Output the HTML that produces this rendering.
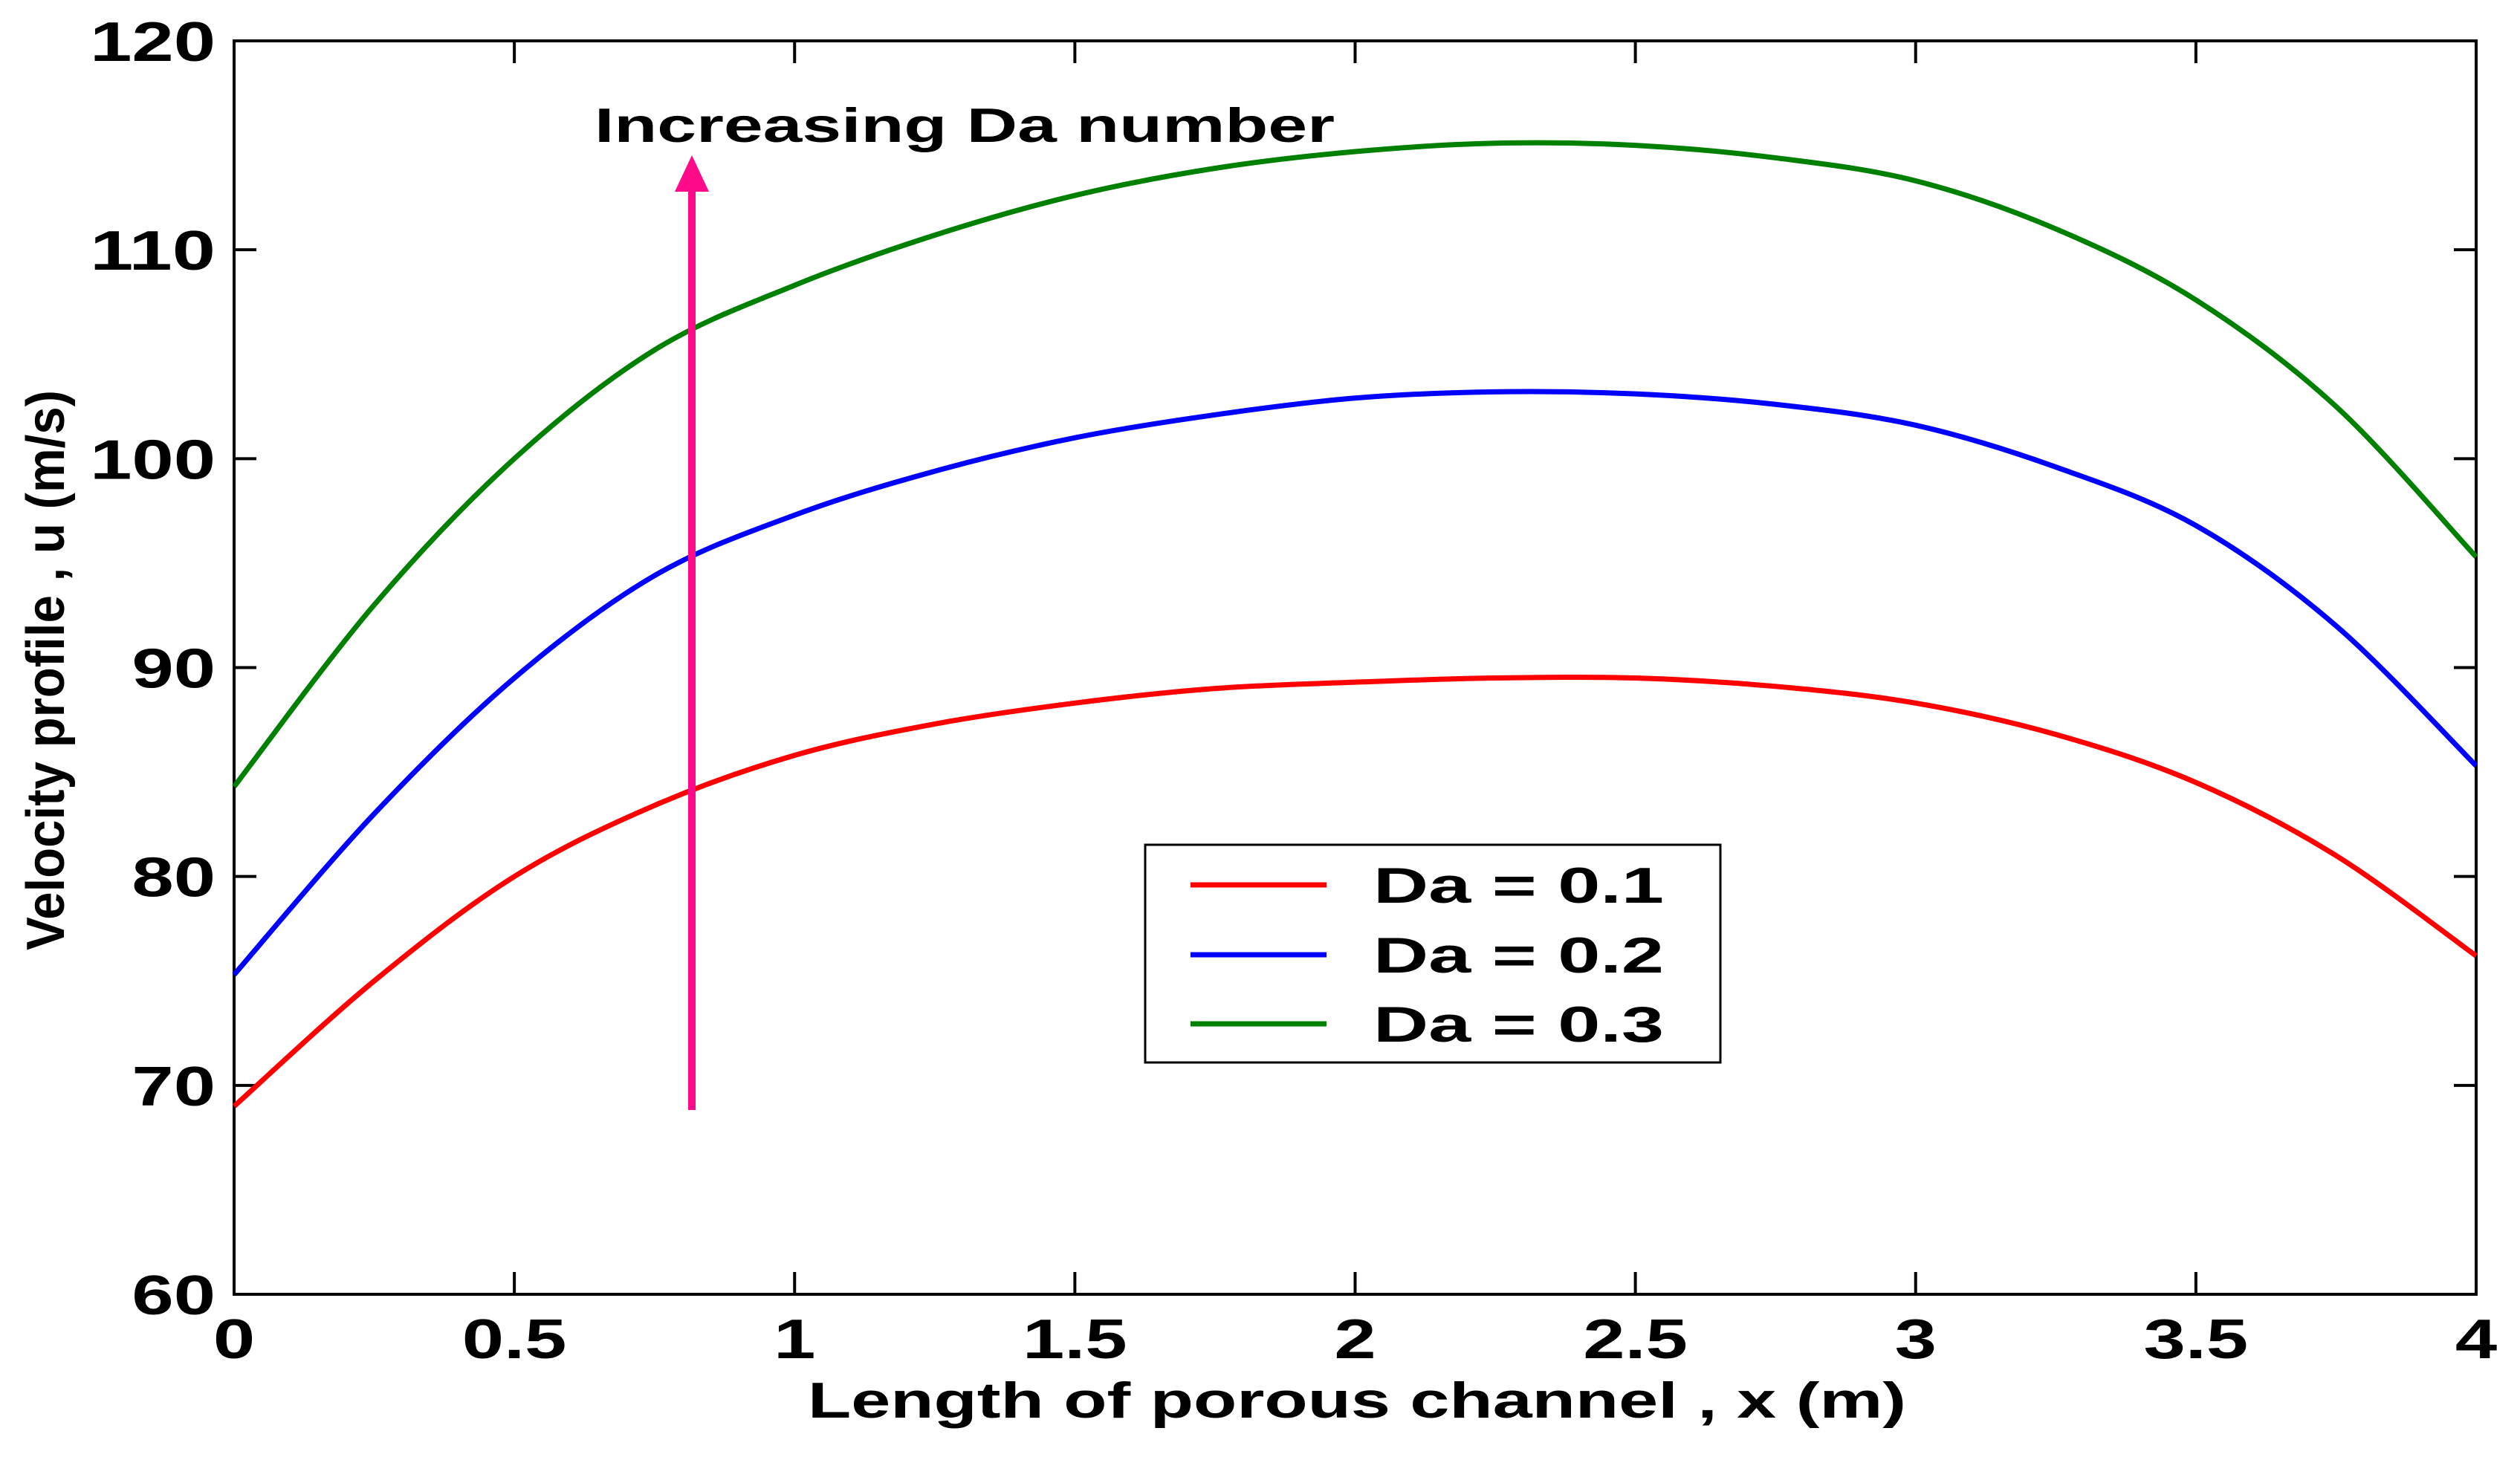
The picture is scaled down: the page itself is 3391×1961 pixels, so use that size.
<!DOCTYPE html>
<html><head><meta charset="utf-8"><style>
html,body{margin:0;padding:0;background:#fff;}
svg{display:block;font-family:"Liberation Sans",Arial,sans-serif;font-weight:bold;}
</style></head><body>
<svg id="chart" width="3391" height="1961" viewBox="0 0 3391 1961" xmlns="http://www.w3.org/2000/svg">
<rect x="0" y="0" width="3391" height="1961" fill="#fff"/>
<g id="grid"></g>
<g id="series"></g>
<g id="anno"></g>
</svg>
<script>
const xTicks=[0,0.5,1,1.5,2,2.5,3,3.5,4];
const xTickLabels=["0","0.5","1","1.5","2","2.5","3","3.5","4"];
const yTicks=[60,70,80,90,100,110,120];
const yTickLabels=["60","70","80","90","100","110","120"];
const xs=[0,0.25,0.5,0.75,1,1.25,1.5,1.75,2,2.25,2.5,2.75,3,3.25,3.5,3.75,4];
const da01=[69,75,80,83.4,85.8,87.3,88.3,89,89.3,89.5,89.5,89.1,88.3,86.8,84.5,81,76.2];
const da02=[75.3,83,89.5,94.4,97.3,99.4,101,102.1,102.9,103.2,103.1,102.6,101.6,99.6,96.8,92,85.3];
const da03=[84.3,93,100,105.2,108.3,110.7,112.6,113.9,114.7,115.1,115,114.4,113.3,111,107.6,102.5,95.3];
const seriesNames=["Da = 0.1","Da = 0.2","Da = 0.3"];
const seriesColors=["#ff0000","#0000ff","#008000"];

const L=315,R=3332,T=55,B=1742;
const X=v=>L+(v-0)/(4-0)*(R-L);
const Y=v=>B-(v-60)/(120-60)*(B-T);
const NS="http://www.w3.org/2000/svg";
function mk(tag,attrs,parent){const e=document.createElementNS(NS,tag);for(const k in attrs)e.setAttribute(k,attrs[k]);parent.appendChild(e);return e;}
const grid=document.getElementById('grid'),ser=document.getElementById('series'),anno=document.getElementById('anno');
function numW(s){let w=0;for(const c of s)w+=(c==='.')?0.278:0.556;return w*75*1.35;}

const box=mk('rect',{x:L,y:T,width:R-L,height:B-T,fill:'none',stroke:'#000','stroke-width':4},grid);


xTicks.forEach((v,i)=>{
  const x=X(v);
  const t1=mk('line',{x1:x,x2:x,y1:B,y2:B-30,stroke:'#000','stroke-width':4},grid);
  
  
  const t2=mk('line',{x1:x,x2:x,y1:T,y2:T+30,stroke:'#000','stroke-width':4},grid);
  
  
  const s=xTickLabels[i];
  const tx=mk('text',{x:x,y:1828,'text-anchor':'middle','font-size':75,textLength:numW(s),lengthAdjust:'spacingAndGlyphs'},grid);
  tx.textContent=s;
  
  
});
yTicks.forEach((v,i)=>{
  const y=Y(v);
  const t1=mk('line',{x1:L,x2:L+30,y1:y,y2:y,stroke:'#000','stroke-width':4},grid);
  
  
  const t2=mk('line',{x1:R,x2:R-30,y1:y,y2:y,stroke:'#000','stroke-width':4},grid);
  
  
  const s=yTickLabels[i];
  const tx=mk('text',{x:290,y:y+27,'text-anchor':'end','font-size':75,textLength:numW(s),lengthAdjust:'spacingAndGlyphs'},grid);
  tx.textContent=s;
  
  
});

function smoothPath(px,py){
  let d=`M${px[0]},${py[0]}`;
  for(let i=0;i<px.length-1;i++){
    const x0=px[Math.max(0,i-1)],y0=py[Math.max(0,i-1)];
    const x1=px[i],y1=py[i],x2=px[i+1],y2=py[i+1];
    const x3=px[Math.min(px.length-1,i+2)],y3=py[Math.min(px.length-1,i+2)];
    const c1x=x1+(x2-x0)/6,c1y=y1+(y2-y0)/6,c2x=x2-(x3-x1)/6,c2y=y2-(y3-y1)/6;
    d+=` C${c1x},${c1y} ${c2x},${c2y} ${x2},${y2}`;
  }
  return d;
}
[da01,da02,da03].forEach((arr,k)=>{
  const p=mk('path',{d:smoothPath(xs.map(X),arr.map(Y)),fill:'none',stroke:seriesColors[k],'stroke-width':7},ser);
  
  
});

const shaft=mk('line',{x1:931,x2:931,y1:1494,y2:255,stroke:'#ff0a88','stroke-width':10},anno);


const head=mk('polygon',{points:'931,209 908,258 954,258',fill:'#ff0a88'},anno);


const ann=mk('text',{x:800,y:191,'font-size':65,textLength:996,lengthAdjust:'spacingAndGlyphs'},anno);
ann.textContent='Increasing Da number';



const lg=mk('g',{},anno);


const lb=mk('rect',{x:1541,y:1137,width:774,height:293,fill:'#fff',stroke:'#000','stroke-width':3},lg);


const ly=[1191,1285,1378];
seriesNames.forEach((n,k)=>{
  const ln=mk('line',{x1:1602,x2:1785,y1:ly[k],y2:ly[k],stroke:seriesColors[k],'stroke-width':7},lg);
  
  
  const t=mk('text',{x:1848,y:ly[k]+24,'font-size':68,textLength:391,lengthAdjust:'spacingAndGlyphs'},lg);
  t.textContent=n;
  
  
});

const xl=mk('text',{x:1826,y:1908,'text-anchor':'middle','font-size':68,textLength:1478,lengthAdjust:'spacingAndGlyphs'},anno);
xl.textContent='Length of porous channel , x (m)';


const yl=mk('text',{x:0,y:0,'text-anchor':'middle','font-size':72,textLength:754,lengthAdjust:'spacingAndGlyphs',transform:'translate(86,902) rotate(-90)'},anno);
yl.textContent='Velocity profile , u (m/s)';


</script>
</body></html>
